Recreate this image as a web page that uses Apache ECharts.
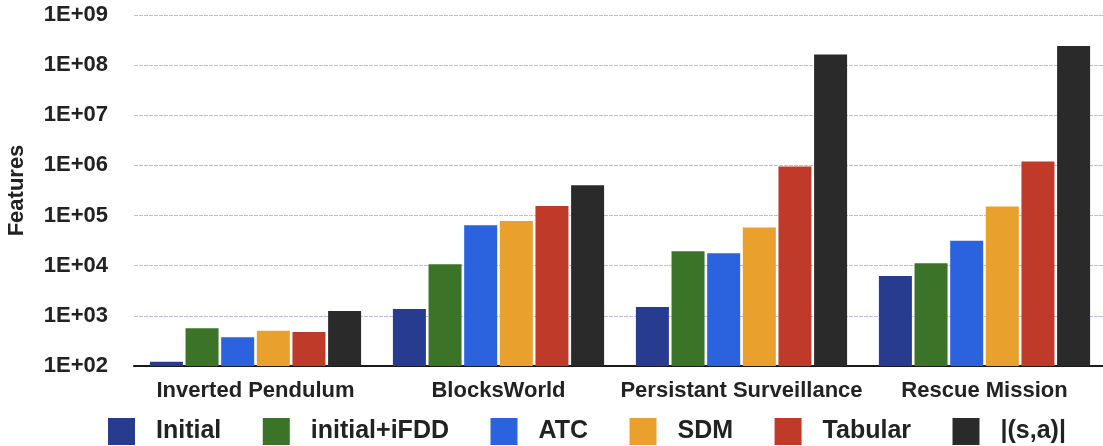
<!DOCTYPE html>
<html>
<head>
<meta charset="utf-8">
<script src="https://cdn.jsdelivr.net/npm/echarts@6/dist/echarts.min.js"></script>
<style>
  html, body { margin: 0; padding: 0; background: #fff; }
  #chart { width: 1103px; height: 446px; }
</style>
</head>
<body>
<div id="chart"></div>
<script>
// Feature counts per domain (log scale)
const categories = ['Inverted Pendulum', 'BlocksWorld', 'Persistant Surveillance', 'Rescue Mission'];
const seriesNames = ['Initial', 'initial+iFDD', 'ATC', 'SDM', 'Tabular', '|(s,a)|'];
const initialVals = [122, 1370, 1500, 6250];
const ifddVals = [565, 10700, 19500, 11200];
const atcVals = [374, 64000, 17800, 31300];
const sdmVals = [507, 78000, 57600, 151000];
const tabularVals = [477, 155000, 950000, 1200000];
const stateActionVals = [1250, 404000, 163000000, 240000000];
const yTickLabels = ['1E+02', '1E+03', '1E+04', '1E+05', '1E+06', '1E+07', '1E+08', '1E+09'];

const colors = ['#283c8f', '#3b7429', '#2b62dd', '#eaa02c', '#bf3a28', '#2a2a2a'];
const valueSets = [initialVals, ifddVals, atcVals, sdmVals, tabularVals, stateActionVals];
const FONT = '"Liberation Sans", Arial, sans-serif';

const chart = echarts.init(document.getElementById('chart'), null, { renderer: 'canvas' });
chart.setOption({
  animation: false,
  color: colors,
  textStyle: { fontFamily: FONT },
  grid: { left: 134, top: 15, width: 972, height: 351, containLabel: false, outerBoundsMode: 'none' },
  legend: {
    data: seriesNames,
    left: 108,
    top: 418,
    padding: 0,
    itemWidth: 27,
    itemHeight: 27,
    itemGap: 41.5,
    icon: 'rect',
    textStyle: { fontFamily: FONT, fontWeight: 'bold', fontSize: 25, color: '#222', padding: [3, 0, 0, 16] }
  },
  xAxis: {
    type: 'category',
    data: categories,
    axisLine: { lineStyle: { color: '#1a1a1a', width: 2 } },
    axisTick: { show: false },
    axisLabel: { interval: 0, fontFamily: FONT, fontWeight: 'bold', fontSize: 22, color: '#222', margin: 14 }
  },
  yAxis: {
    type: 'log',
    logBase: 10,
    min: 100,
    max: 1e9,
    name: 'Features',
    nameLocation: 'middle',
    nameRotate: 90,
    nameGap: 106,
    nameTextStyle: { fontFamily: FONT, fontWeight: 'bold', fontSize: 22, color: '#222' },
    axisLine: { show: false },
    axisTick: { show: false },
    splitLine: { lineStyle: { color: '#bfbbe6', width: 1, type: [4, 1] } },
    axisLabel: {
      fontFamily: FONT, fontWeight: 'bold', fontSize: 22, color: '#222', margin: 26,
      formatter: function (v) {
        const e = Math.round(Math.log10(v));
        return yTickLabels[e - 2] || '';
      }
    }
  },
  series: seriesNames.map((name, i) => ({
    name: name,
    type: 'bar',
    data: valueSets[i],
    barWidth: 33,
    barGap: '8%',
    itemStyle: { color: colors[i] }
  }))
});
</script>
</body>
</html>
